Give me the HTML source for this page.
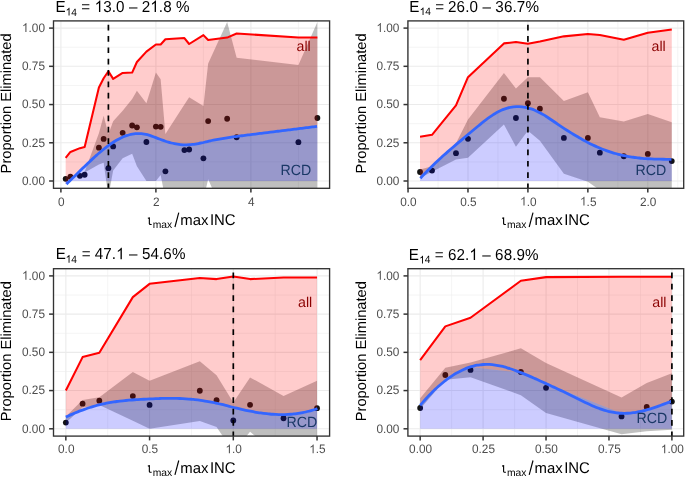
<!DOCTYPE html><html><head><meta charset="utf-8"><title>Proportion Eliminated</title><style>html,body{margin:0;padding:0;background:#fff;overflow:hidden}svg{display:block;will-change:transform}text{font-family:"Liberation Sans",sans-serif;text-rendering:geometricPrecision}</style></head><body>
<svg xmlns="http://www.w3.org/2000/svg" width="685" height="477" viewBox="0 0 685 477">
<rect width="685" height="477" fill="#fff"/>
<clipPath id="c1"><rect x="53.5" y="20.9" width="276.10" height="167.40"/></clipPath>
<g clip-path="url(#c1)">
<line x1="53.5" x2="329.6" y1="161.89" y2="161.89" stroke="#ebebeb" stroke-width="0.55"/>
<line x1="53.5" x2="329.6" y1="123.66" y2="123.66" stroke="#ebebeb" stroke-width="0.55"/>
<line x1="53.5" x2="329.6" y1="85.44" y2="85.44" stroke="#ebebeb" stroke-width="0.55"/>
<line x1="53.5" x2="329.6" y1="47.21" y2="47.21" stroke="#ebebeb" stroke-width="0.55"/>
<line x1="108.40" x2="108.40" y1="20.9" y2="188.3" stroke="#ebebeb" stroke-width="0.55"/>
<line x1="203.40" x2="203.40" y1="20.9" y2="188.3" stroke="#ebebeb" stroke-width="0.55"/>
<line x1="298.40" x2="298.40" y1="20.9" y2="188.3" stroke="#ebebeb" stroke-width="0.55"/>
<line x1="53.5" x2="329.6" y1="181.00" y2="181.00" stroke="#ebebeb" stroke-width="1.1"/>
<line x1="53.5" x2="329.6" y1="142.78" y2="142.78" stroke="#ebebeb" stroke-width="1.1"/>
<line x1="53.5" x2="329.6" y1="104.55" y2="104.55" stroke="#ebebeb" stroke-width="1.1"/>
<line x1="53.5" x2="329.6" y1="66.32" y2="66.32" stroke="#ebebeb" stroke-width="1.1"/>
<line x1="53.5" x2="329.6" y1="28.10" y2="28.10" stroke="#ebebeb" stroke-width="1.1"/>
<line x1="60.90" x2="60.90" y1="20.9" y2="188.3" stroke="#ebebeb" stroke-width="1.1"/>
<line x1="155.90" x2="155.90" y1="20.9" y2="188.3" stroke="#ebebeb" stroke-width="1.1"/>
<line x1="250.90" x2="250.90" y1="20.9" y2="188.3" stroke="#ebebeb" stroke-width="1.1"/>
<polygon points="65.65,177.94 70.40,176.41 79.90,174.12 84.65,171.83 98.90,133.14 103.65,115.86 108.40,134.37 113.15,121.37 122.65,110.67 132.15,98.89 136.90,90.79 146.40,103.33 155.90,72.59 160.65,79.17 165.40,134.06 184.40,104.55 189.15,97.36 203.40,106.08 208.15,63.57 227.15,21.98 236.65,57.76 298.40,64.95 317.40,21.98 317.40,211.58 298.40,211.58 236.65,211.58 227.15,222.28 208.15,179.32 203.40,199.35 189.15,211.58 184.40,211.58 165.40,199.35 160.65,174.88 155.90,181.00 146.40,181.00 136.90,166.32 132.15,153.78 122.65,158.37 113.15,170.60 108.40,196.29 103.65,162.65 98.90,164.49 84.65,172.59 79.90,175.65 70.40,177.94 65.65,181.00" fill="#000" fill-opacity="0.25"/>
<circle cx="65.65" cy="178.86" r="2.9" fill="#141414"/>
<circle cx="70.40" cy="176.72" r="2.9" fill="#141414"/>
<circle cx="79.90" cy="175.80" r="2.9" fill="#141414"/>
<circle cx="84.65" cy="174.73" r="2.9" fill="#141414"/>
<circle cx="98.90" cy="147.67" r="2.9" fill="#141414"/>
<circle cx="103.65" cy="138.95" r="2.9" fill="#141414"/>
<circle cx="108.40" cy="168.16" r="2.9" fill="#141414"/>
<circle cx="113.15" cy="146.44" r="2.9" fill="#141414"/>
<circle cx="122.65" cy="132.84" r="2.9" fill="#141414"/>
<circle cx="132.15" cy="125.50" r="2.9" fill="#141414"/>
<circle cx="136.90" cy="127.33" r="2.9" fill="#141414"/>
<circle cx="146.40" cy="142.01" r="2.9" fill="#141414"/>
<circle cx="155.90" cy="126.57" r="2.9" fill="#141414"/>
<circle cx="160.65" cy="126.87" r="2.9" fill="#141414"/>
<circle cx="165.40" cy="171.37" r="2.9" fill="#141414"/>
<circle cx="184.40" cy="150.11" r="2.9" fill="#141414"/>
<circle cx="189.15" cy="149.50" r="2.9" fill="#141414"/>
<circle cx="203.40" cy="158.37" r="2.9" fill="#141414"/>
<circle cx="208.15" cy="121.06" r="2.9" fill="#141414"/>
<circle cx="227.15" cy="118.77" r="2.9" fill="#141414"/>
<circle cx="236.65" cy="137.27" r="2.9" fill="#141414"/>
<circle cx="298.40" cy="142.16" r="2.9" fill="#141414"/>
<circle cx="317.40" cy="118.01" r="2.9" fill="#141414"/>
<polygon points="65.65,157.91 70.40,151.95 79.90,148.13 84.65,147.06 98.90,87.43 103.65,78.25 108.40,71.22 113.15,78.86 122.65,72.90 132.15,72.59 136.90,62.04 146.40,51.65 155.90,44.46 160.65,44.46 165.40,39.26 184.40,38.04 189.15,44.00 203.40,35.13 208.15,40.03 227.15,37.58 236.65,33.45 298.40,37.58 317.40,37.58 317.40,126.37 298.40,128.72 236.65,136.42 227.15,137.76 208.15,141.35 203.40,142.48 189.15,144.73 184.40,144.81 165.40,141.22 160.65,139.53 155.90,137.68 146.40,134.47 136.90,133.60 132.15,134.15 122.65,137.16 113.15,142.35 108.40,145.62 103.65,149.26 98.90,153.21 84.65,166.39 79.90,171.02 70.40,180.30 65.65,184.13" fill="#ff0000" fill-opacity="0.2"/>
<polygon points="65.65,181.00 65.65,184.13 70.40,180.30 79.90,171.02 84.65,166.39 98.90,153.21 103.65,149.26 108.40,145.62 113.15,142.35 122.65,137.16 132.15,134.15 136.90,133.60 146.40,134.47 155.90,137.68 160.65,139.53 165.40,141.22 184.40,144.81 189.15,144.73 203.40,142.48 208.15,141.35 227.15,137.76 236.65,136.42 298.40,128.72 317.40,126.37 317.40,181.00" fill="#0000ff" fill-opacity="0.2"/>
<polyline points="65.65,157.91 70.40,151.95 79.90,148.13 84.65,147.06 98.90,87.43 103.65,78.25 108.40,71.22 113.15,78.86 122.65,72.90 132.15,72.59 136.90,62.04 146.40,51.65 155.90,44.46 160.65,44.46 165.40,39.26 184.40,38.04 189.15,44.00 203.40,35.13 208.15,40.03 227.15,37.58 236.65,33.45 298.40,37.58 317.40,37.58" fill="none" stroke="#ff0000" stroke-width="2.05" stroke-linejoin="round"/>
<path d="M66.40,184.13 C66.90,183.65 68.40,182.23 69.40,181.27 C70.40,180.31 71.40,179.34 72.40,178.36 C73.40,177.39 74.40,176.41 75.40,175.43 C76.40,174.46 77.40,173.47 78.40,172.49 C79.40,171.51 80.40,170.53 81.40,169.55 C82.40,168.58 83.40,167.60 84.40,166.63 C85.40,165.66 86.40,164.69 87.40,163.74 C88.40,162.78 89.40,161.83 90.40,160.89 C91.40,159.96 92.40,159.03 93.40,158.11 C94.40,157.20 95.40,156.29 96.40,155.40 C97.40,154.51 98.40,153.64 99.40,152.78 C100.40,151.93 101.40,151.09 102.40,150.27 C103.40,149.45 104.40,148.65 105.40,147.88 C106.40,147.10 107.40,146.34 108.40,145.62 C109.40,144.89 110.40,144.18 111.40,143.50 C112.40,142.83 113.40,142.18 114.40,141.56 C115.40,140.94 116.40,140.34 117.40,139.78 C118.40,139.23 119.40,138.70 120.40,138.21 C121.40,137.71 122.40,137.25 123.40,136.83 C124.40,136.41 125.40,136.03 126.40,135.68 C127.40,135.34 128.40,135.03 129.40,134.77 C130.40,134.51 131.40,134.28 132.40,134.11 C133.40,133.93 134.40,133.79 135.40,133.70 C136.40,133.61 137.40,133.57 138.40,133.57 C139.40,133.56 140.40,133.60 141.40,133.69 C142.40,133.77 143.40,133.90 144.40,134.07 C145.40,134.24 146.40,134.46 147.40,134.71 C148.40,134.97 149.40,135.27 150.40,135.60 C151.40,135.93 152.40,136.31 153.40,136.69 C154.40,137.07 155.40,137.48 156.40,137.87 C157.40,138.27 158.40,138.67 159.40,139.05 C160.40,139.44 161.40,139.81 162.40,140.18 C163.40,140.54 164.40,140.89 165.40,141.22 C166.40,141.55 167.40,141.87 168.40,142.17 C169.40,142.46 170.40,142.74 171.40,143.00 C172.40,143.25 173.40,143.48 174.40,143.69 C175.40,143.89 176.40,144.07 177.40,144.22 C178.40,144.37 179.40,144.49 180.40,144.58 C181.40,144.68 182.40,144.74 183.40,144.78 C184.40,144.82 185.40,144.83 186.40,144.82 C187.40,144.81 188.40,144.78 189.40,144.72 C190.40,144.66 191.40,144.57 192.40,144.47 C193.40,144.36 194.40,144.23 195.40,144.08 C196.40,143.93 197.40,143.76 198.40,143.57 C199.40,143.38 200.40,143.16 201.40,142.94 C202.40,142.72 203.40,142.48 204.40,142.24 C205.40,142.01 206.40,141.76 207.40,141.53 C208.40,141.29 209.40,141.06 210.40,140.84 C211.40,140.61 212.40,140.40 213.40,140.19 C214.40,139.99 215.40,139.79 216.40,139.60 C217.40,139.41 218.40,139.22 219.40,139.04 C220.40,138.86 221.40,138.69 222.40,138.52 C223.40,138.35 224.40,138.19 225.40,138.03 C226.40,137.88 227.40,137.72 228.40,137.57 C229.40,137.42 230.40,137.28 231.40,137.14 C232.40,137.00 233.40,136.86 234.40,136.72 C235.40,136.59 236.40,136.45 237.40,136.32 C238.40,136.19 239.40,136.06 240.40,135.93 C241.40,135.80 242.40,135.68 243.40,135.55 C244.40,135.42 245.40,135.30 246.40,135.17 C247.40,135.05 248.40,134.92 249.40,134.80 C250.40,134.67 251.40,134.54 252.40,134.42 C253.40,134.29 254.40,134.17 255.40,134.05 C256.40,133.92 257.40,133.80 258.40,133.67 C259.40,133.55 260.40,133.42 261.40,133.30 C262.40,133.18 263.40,133.05 264.40,132.93 C265.40,132.80 266.40,132.68 267.40,132.56 C268.40,132.43 269.40,132.31 270.40,132.19 C271.40,132.06 272.40,131.94 273.40,131.82 C274.40,131.69 275.40,131.57 276.40,131.45 C277.40,131.32 278.40,131.20 279.40,131.07 C280.40,130.95 281.40,130.83 282.40,130.70 C283.40,130.58 284.40,130.46 285.40,130.33 C286.40,130.21 287.40,130.09 288.40,129.96 C289.40,129.84 290.40,129.71 291.40,129.59 C292.40,129.47 293.40,129.34 294.40,129.22 C295.40,129.09 296.40,128.97 297.40,128.84 C298.40,128.72 299.40,128.59 300.40,128.47 C301.40,128.34 302.40,128.22 303.40,128.09 C304.40,127.97 305.40,127.84 306.40,127.71 C307.40,127.59 308.40,127.46 309.40,127.34 C310.40,127.21 311.40,127.08 312.40,126.95 C313.40,126.83 314.63,126.67 315.40,126.57 C316.17,126.47 316.73,126.40 317.00,126.37" fill="none" stroke="#3366ff" stroke-width="2.8"/>
<line x1="108.40" x2="108.40" y1="20.9" y2="188.3" stroke="#000" stroke-width="1.7" stroke-dasharray="5.7 5.65" stroke-dashoffset="7.55"/>
<text x="296.5" y="50.7" font-size="14.2" fill="#8b0000">all</text>
<g transform="translate(0,174.5) scale(1,1.045) translate(0,-174.5)"><text x="280.5" y="174.5" font-size="14.2" fill="#1a3866">RCD</text></g>
</g>
<rect x="53.5" y="20.9" width="276.10" height="167.40" fill="none" stroke="#333333" stroke-width="1.35"/>
<line x1="49.10" x2="53.5" y1="181.00" y2="181.00" stroke="#333333" stroke-width="1.5"/>
<g transform="translate(0,184.80) scale(1,1.045) translate(0,-184.80)"><text x="22.03 28.60 31.87 38.44" y="184.80" font-size="11.8" fill="#4d4d4d">0.00</text></g>
<line x1="49.10" x2="53.5" y1="142.78" y2="142.78" stroke="#333333" stroke-width="1.5"/>
<g transform="translate(0,146.58) scale(1,1.045) translate(0,-146.58)"><text x="22.03 28.60 31.87 38.44" y="146.58" font-size="11.8" fill="#4d4d4d">0.25</text></g>
<line x1="49.10" x2="53.5" y1="104.55" y2="104.55" stroke="#333333" stroke-width="1.5"/>
<g transform="translate(0,108.35) scale(1,1.045) translate(0,-108.35)"><text x="22.03 28.60 31.87 38.44" y="108.35" font-size="11.8" fill="#4d4d4d">0.50</text></g>
<line x1="49.10" x2="53.5" y1="66.32" y2="66.32" stroke="#333333" stroke-width="1.5"/>
<g transform="translate(0,70.12) scale(1,1.045) translate(0,-70.12)"><text x="22.03 28.60 31.87 38.44" y="70.12" font-size="11.8" fill="#4d4d4d">0.75</text></g>
<line x1="49.10" x2="53.5" y1="28.10" y2="28.10" stroke="#333333" stroke-width="1.5"/>
<g transform="translate(0,31.90) scale(1,1.045) translate(0,-31.90)"><text x="22.03 28.60 31.87 38.44" y="31.90" font-size="11.8" fill="#4d4d4d"> .00</text><path d="M763,0 L583,0 L583,1147 C530,1097 400,1010 222,930 L222,1104 C400,1180 600,1330 646,1472 L763,1472 Z" fill="#4d4d4d" transform="translate(22.03,31.90) scale(0.005762,-0.005762)"/></g>
<line x1="60.90" x2="60.90" y1="188.3" y2="192.60" stroke="#333333" stroke-width="1.5"/>
<g transform="translate(0,205.50) scale(1,1.045) translate(0,-205.50)"><text x="58.02" y="205.50" font-size="11.8" fill="#4d4d4d">0</text></g>
<line x1="155.90" x2="155.90" y1="188.3" y2="192.60" stroke="#333333" stroke-width="1.5"/>
<g transform="translate(0,205.50) scale(1,1.045) translate(0,-205.50)"><text x="153.02" y="205.50" font-size="11.8" fill="#4d4d4d">2</text></g>
<line x1="250.90" x2="250.90" y1="188.3" y2="192.60" stroke="#333333" stroke-width="1.5"/>
<g transform="translate(0,205.50) scale(1,1.045) translate(0,-205.50)"><text x="248.02" y="205.50" font-size="11.8" fill="#4d4d4d">4</text></g>
<g transform="translate(0,12.00) scale(1,1.045) translate(0,-12.00)"><text x="55.45" y="12.00" font-size="15.2">E</text></g>
<g transform="translate(0,15.50) scale(1,1.045) translate(0,-15.50)"><text x="65.69 71.36" y="15.50" font-size="10.2" fill="#000"> 4</text><path d="M763,0 L583,0 L583,1147 C530,1097 400,1010 222,930 L222,1104 C400,1180 600,1330 646,1472 L763,1472 Z" fill="#000" transform="translate(65.69,15.50) scale(0.004980,-0.004980)"/></g>
<g transform="translate(0,12.00) scale(1,1.045) translate(0,-12.00)"><text x="81.36" y="12.00" font-size="15.2">=</text></g>
<g transform="translate(0,12.00) scale(1,1.045) translate(0,-12.00)"><text x="94.64 103.19 111.73 116.05 124.59 128.91 137.45 141.76 150.31 158.85 163.17 171.71 176.03" y="12.00" font-size="15.2" fill="#000"> 3.0 – 2 .8 %</text><path d="M763,0 L583,0 L583,1147 C530,1097 400,1010 222,930 L222,1104 C400,1180 600,1330 646,1472 L763,1472 Z" fill="#000" transform="translate(94.64,12.00) scale(0.007422,-0.007422)"/><path d="M763,0 L583,0 L583,1147 C530,1097 400,1010 222,930 L222,1104 C400,1180 600,1330 646,1472 L763,1472 Z" fill="#000" transform="translate(150.31,12.00) scale(0.007422,-0.007422)"/></g>
<text transform="translate(11.30,103.40) rotate(-90)" font-size="14.65" text-anchor="middle">Proportion Eliminated</text>
<path d="M147.85,218.30 L149.35,217.90 L149.35,223.70 Q149.45,224.70 151.65,224.45" fill="none" stroke="#000" stroke-width="1.12"/>
<text x="152.65" y="227.80" font-size="10.3">max</text>
<line x1="174.95" y1="227.00" x2="178.75" y2="212.70" stroke="#000" stroke-width="1.15"/>
<text x="180.25" y="224.80" font-size="14.9">max</text>
<g transform="translate(0,224.80) scale(1,1.045) translate(0,-224.80)"><text x="209.95" y="224.80" font-size="14.9">INC</text></g>
<clipPath id="c2"><rect x="407.9" y="20.9" width="275.80" height="167.40"/></clipPath>
<g clip-path="url(#c2)">
<line x1="407.9" x2="683.7" y1="161.89" y2="161.89" stroke="#ebebeb" stroke-width="0.55"/>
<line x1="407.9" x2="683.7" y1="123.66" y2="123.66" stroke="#ebebeb" stroke-width="0.55"/>
<line x1="407.9" x2="683.7" y1="85.44" y2="85.44" stroke="#ebebeb" stroke-width="0.55"/>
<line x1="407.9" x2="683.7" y1="47.21" y2="47.21" stroke="#ebebeb" stroke-width="0.55"/>
<line x1="438.01" x2="438.01" y1="20.9" y2="188.3" stroke="#ebebeb" stroke-width="0.55"/>
<line x1="497.95" x2="497.95" y1="20.9" y2="188.3" stroke="#ebebeb" stroke-width="0.55"/>
<line x1="557.89" x2="557.89" y1="20.9" y2="188.3" stroke="#ebebeb" stroke-width="0.55"/>
<line x1="617.83" x2="617.83" y1="20.9" y2="188.3" stroke="#ebebeb" stroke-width="0.55"/>
<line x1="677.77" x2="677.77" y1="20.9" y2="188.3" stroke="#ebebeb" stroke-width="0.55"/>
<line x1="407.9" x2="683.7" y1="181.00" y2="181.00" stroke="#ebebeb" stroke-width="1.1"/>
<line x1="407.9" x2="683.7" y1="142.78" y2="142.78" stroke="#ebebeb" stroke-width="1.1"/>
<line x1="407.9" x2="683.7" y1="104.55" y2="104.55" stroke="#ebebeb" stroke-width="1.1"/>
<line x1="407.9" x2="683.7" y1="66.32" y2="66.32" stroke="#ebebeb" stroke-width="1.1"/>
<line x1="407.9" x2="683.7" y1="28.10" y2="28.10" stroke="#ebebeb" stroke-width="1.1"/>
<line x1="408.04" x2="408.04" y1="20.9" y2="188.3" stroke="#ebebeb" stroke-width="1.1"/>
<line x1="467.98" x2="467.98" y1="20.9" y2="188.3" stroke="#ebebeb" stroke-width="1.1"/>
<line x1="527.92" x2="527.92" y1="20.9" y2="188.3" stroke="#ebebeb" stroke-width="1.1"/>
<line x1="587.86" x2="587.86" y1="20.9" y2="188.3" stroke="#ebebeb" stroke-width="1.1"/>
<line x1="647.80" x2="647.80" y1="20.9" y2="188.3" stroke="#ebebeb" stroke-width="1.1"/>
<polygon points="420.03,169.53 432.02,166.17 455.99,143.23 467.98,119.53 503.94,73.05 515.93,88.50 527.92,77.18 539.91,77.18 563.88,101.03 587.86,92.32 599.85,117.24 623.82,121.52 647.80,114.03 671.78,122.29 671.78,211.58 647.80,211.58 623.82,211.58 599.85,190.17 587.86,181.76 563.88,173.66 539.91,140.79 527.92,130.85 515.93,146.75 503.94,124.58 467.98,157.76 455.99,159.44 432.02,171.83 420.03,177.94" fill="#000" fill-opacity="0.25"/>
<circle cx="420.03" cy="171.98" r="2.9" fill="#141414"/>
<circle cx="432.02" cy="170.60" r="2.9" fill="#141414"/>
<circle cx="455.99" cy="153.17" r="2.9" fill="#141414"/>
<circle cx="467.98" cy="138.80" r="2.9" fill="#141414"/>
<circle cx="503.94" cy="98.74" r="2.9" fill="#141414"/>
<circle cx="515.93" cy="118.01" r="2.9" fill="#141414"/>
<circle cx="527.92" cy="103.17" r="2.9" fill="#141414"/>
<circle cx="539.91" cy="108.68" r="2.9" fill="#141414"/>
<circle cx="563.88" cy="137.88" r="2.9" fill="#141414"/>
<circle cx="587.86" cy="137.88" r="2.9" fill="#141414"/>
<circle cx="599.85" cy="152.71" r="2.9" fill="#141414"/>
<circle cx="623.82" cy="156.23" r="2.9" fill="#141414"/>
<circle cx="647.80" cy="153.94" r="2.9" fill="#141414"/>
<circle cx="671.78" cy="161.12" r="2.9" fill="#141414"/>
<polygon points="420.03,136.81 432.02,134.82 455.99,105.31 467.98,77.18 503.94,43.39 515.93,42.01 527.92,43.85 539.91,41.56 563.88,36.36 587.86,33.91 599.85,34.98 623.82,39.72 647.80,32.84 671.78,29.48 671.78,159.32 647.80,158.71 623.82,155.59 599.85,148.09 587.86,142.45 563.88,128.28 539.91,112.74 527.92,107.94 515.93,106.71 503.94,109.23 467.98,134.56 455.99,144.64 432.02,166.20 420.03,178.32" fill="#ff0000" fill-opacity="0.2"/>
<polygon points="420.03,181.00 420.03,178.32 432.02,166.20 455.99,144.64 467.98,134.56 503.94,109.23 515.93,106.71 527.92,107.94 539.91,112.74 563.88,128.28 587.86,142.45 599.85,148.09 623.82,155.59 647.80,158.71 671.78,159.32 671.78,181.00" fill="#0000ff" fill-opacity="0.2"/>
<polyline points="420.03,136.81 432.02,134.82 455.99,105.31 467.98,77.18 503.94,43.39 515.93,42.01 527.92,43.85 539.91,41.56 563.88,36.36 587.86,33.91 599.85,34.98 623.82,39.72 647.80,32.84 671.78,29.48" fill="none" stroke="#ff0000" stroke-width="2.05" stroke-linejoin="round"/>
<path d="M420.30,178.32 C420.80,177.78 422.30,176.14 423.30,175.08 C424.30,174.01 425.30,172.97 426.30,171.93 C427.30,170.90 428.30,169.89 429.30,168.89 C430.30,167.88 431.30,166.90 432.30,165.92 C433.30,164.95 434.30,163.99 435.30,163.04 C436.30,162.09 437.30,161.15 438.30,160.22 C439.30,159.30 440.30,158.38 441.30,157.47 C442.30,156.56 443.30,155.67 444.30,154.78 C445.30,153.88 446.30,153.00 447.30,152.13 C448.30,151.25 449.30,150.38 450.30,149.51 C451.30,148.65 452.30,147.79 453.30,146.94 C454.30,146.08 455.30,145.23 456.30,144.38 C457.30,143.53 458.30,142.68 459.30,141.84 C460.30,141.00 461.30,140.15 462.30,139.31 C463.30,138.47 464.30,137.63 465.30,136.80 C466.30,135.96 467.30,135.12 468.30,134.29 C469.30,133.45 470.30,132.62 471.30,131.78 C472.30,130.95 473.30,130.11 474.30,129.28 C475.30,128.45 476.30,127.61 477.30,126.78 C478.30,125.96 479.30,125.13 480.30,124.32 C481.30,123.50 482.30,122.70 483.30,121.91 C484.30,121.12 485.30,120.34 486.30,119.59 C487.30,118.83 488.30,118.09 489.30,117.38 C490.30,116.67 491.30,115.98 492.30,115.32 C493.30,114.67 494.30,114.03 495.30,113.44 C496.30,112.84 497.30,112.28 498.30,111.76 C499.30,111.23 500.30,110.75 501.30,110.31 C502.30,109.86 503.30,109.46 504.30,109.10 C505.30,108.74 506.30,108.42 507.30,108.14 C508.30,107.86 509.30,107.62 510.30,107.42 C511.30,107.22 512.30,107.06 513.30,106.94 C514.30,106.82 515.30,106.74 516.30,106.70 C517.30,106.65 518.30,106.65 519.30,106.69 C520.30,106.72 521.30,106.80 522.30,106.91 C523.30,107.02 524.30,107.17 525.30,107.36 C526.30,107.55 527.30,107.78 528.30,108.04 C529.30,108.30 530.30,108.60 531.30,108.94 C532.30,109.28 533.30,109.65 534.30,110.06 C535.30,110.48 536.30,110.93 537.30,111.41 C538.30,111.89 539.30,112.41 540.30,112.95 C541.30,113.49 542.30,114.07 543.30,114.66 C544.30,115.26 545.30,115.88 546.30,116.51 C547.30,117.14 548.30,117.80 549.30,118.46 C550.30,119.12 551.30,119.79 552.30,120.47 C553.30,121.15 554.30,121.83 555.30,122.52 C556.30,123.20 557.30,123.88 558.30,124.56 C559.30,125.24 560.30,125.91 561.30,126.57 C562.30,127.24 563.30,127.90 564.30,128.55 C565.30,129.20 566.30,129.85 567.30,130.49 C568.30,131.13 569.30,131.76 570.30,132.38 C571.30,133.01 572.30,133.63 573.30,134.23 C574.30,134.84 575.30,135.44 576.30,136.03 C577.30,136.63 578.30,137.21 579.30,137.78 C580.30,138.36 581.30,138.92 582.30,139.47 C583.30,140.03 584.30,140.57 585.30,141.11 C586.30,141.64 587.30,142.17 588.30,142.68 C589.30,143.19 590.30,143.70 591.30,144.19 C592.30,144.68 593.30,145.16 594.30,145.62 C595.30,146.09 596.30,146.55 597.30,146.99 C598.30,147.43 599.30,147.87 600.30,148.28 C601.30,148.70 602.30,149.11 603.30,149.50 C604.30,149.89 605.30,150.27 606.30,150.63 C607.30,150.99 608.30,151.34 609.30,151.68 C610.30,152.01 611.30,152.33 612.30,152.64 C613.30,152.95 614.30,153.24 615.30,153.52 C616.30,153.80 617.30,154.06 618.30,154.32 C619.30,154.57 620.30,154.81 621.30,155.04 C622.30,155.27 623.30,155.48 624.30,155.69 C625.30,155.90 626.30,156.09 627.30,156.27 C628.30,156.46 629.30,156.63 630.30,156.79 C631.30,156.95 632.30,157.10 633.30,157.24 C634.30,157.39 635.30,157.52 636.30,157.64 C637.30,157.77 638.30,157.88 639.30,157.99 C640.30,158.10 641.30,158.19 642.30,158.28 C643.30,158.37 644.30,158.46 645.30,158.53 C646.30,158.61 647.30,158.68 648.30,158.74 C649.30,158.80 650.30,158.86 651.30,158.91 C652.30,158.96 653.30,159.00 654.30,159.04 C655.30,159.08 656.30,159.11 657.30,159.14 C658.30,159.17 659.30,159.20 660.30,159.22 C661.30,159.24 662.30,159.26 663.30,159.27 C664.30,159.28 665.30,159.29 666.30,159.30 C667.30,159.31 668.45,159.31 669.30,159.32 C670.15,159.32 671.05,159.32 671.40,159.32" fill="none" stroke="#3366ff" stroke-width="2.8"/>
<line x1="527.92" x2="527.92" y1="20.9" y2="188.3" stroke="#000" stroke-width="1.7" stroke-dasharray="5.7 5.65" stroke-dashoffset="7.55"/>
<text x="651.5" y="50.7" font-size="14.2" fill="#8b0000">all</text>
<g transform="translate(0,174.5) scale(1,1.045) translate(0,-174.5)"><text x="635.6" y="174.5" font-size="14.2" fill="#1a3866">RCD</text></g>
</g>
<rect x="407.9" y="20.9" width="275.80" height="167.40" fill="none" stroke="#333333" stroke-width="1.35"/>
<line x1="403.50" x2="407.9" y1="181.00" y2="181.00" stroke="#333333" stroke-width="1.5"/>
<g transform="translate(0,184.80) scale(1,1.045) translate(0,-184.80)"><text x="376.43 383.00 386.27 392.84" y="184.80" font-size="11.8" fill="#4d4d4d">0.00</text></g>
<line x1="403.50" x2="407.9" y1="142.78" y2="142.78" stroke="#333333" stroke-width="1.5"/>
<g transform="translate(0,146.58) scale(1,1.045) translate(0,-146.58)"><text x="376.43 383.00 386.27 392.84" y="146.58" font-size="11.8" fill="#4d4d4d">0.25</text></g>
<line x1="403.50" x2="407.9" y1="104.55" y2="104.55" stroke="#333333" stroke-width="1.5"/>
<g transform="translate(0,108.35) scale(1,1.045) translate(0,-108.35)"><text x="376.43 383.00 386.27 392.84" y="108.35" font-size="11.8" fill="#4d4d4d">0.50</text></g>
<line x1="403.50" x2="407.9" y1="66.32" y2="66.32" stroke="#333333" stroke-width="1.5"/>
<g transform="translate(0,70.12) scale(1,1.045) translate(0,-70.12)"><text x="376.43 383.00 386.27 392.84" y="70.12" font-size="11.8" fill="#4d4d4d">0.75</text></g>
<line x1="403.50" x2="407.9" y1="28.10" y2="28.10" stroke="#333333" stroke-width="1.5"/>
<g transform="translate(0,31.90) scale(1,1.045) translate(0,-31.90)"><text x="376.43 383.00 386.27 392.84" y="31.90" font-size="11.8" fill="#4d4d4d"> .00</text><path d="M763,0 L583,0 L583,1147 C530,1097 400,1010 222,930 L222,1104 C400,1180 600,1330 646,1472 L763,1472 Z" fill="#4d4d4d" transform="translate(376.43,31.90) scale(0.005762,-0.005762)"/></g>
<line x1="408.04" x2="408.04" y1="188.3" y2="192.60" stroke="#333333" stroke-width="1.5"/>
<g transform="translate(0,205.50) scale(1,1.045) translate(0,-205.50)"><text x="400.24 406.80 410.08" y="205.50" font-size="11.8" fill="#4d4d4d">0.0</text></g>
<line x1="467.98" x2="467.98" y1="188.3" y2="192.60" stroke="#333333" stroke-width="1.5"/>
<g transform="translate(0,205.50) scale(1,1.045) translate(0,-205.50)"><text x="460.18 466.74 470.02" y="205.50" font-size="11.8" fill="#4d4d4d">0.5</text></g>
<line x1="527.92" x2="527.92" y1="188.3" y2="192.60" stroke="#333333" stroke-width="1.5"/>
<g transform="translate(0,205.50) scale(1,1.045) translate(0,-205.50)"><text x="520.12 526.68 529.96" y="205.50" font-size="11.8" fill="#4d4d4d"> .0</text><path d="M763,0 L583,0 L583,1147 C530,1097 400,1010 222,930 L222,1104 C400,1180 600,1330 646,1472 L763,1472 Z" fill="#4d4d4d" transform="translate(520.12,205.50) scale(0.005762,-0.005762)"/></g>
<line x1="587.86" x2="587.86" y1="188.3" y2="192.60" stroke="#333333" stroke-width="1.5"/>
<g transform="translate(0,205.50) scale(1,1.045) translate(0,-205.50)"><text x="580.06 586.62 589.90" y="205.50" font-size="11.8" fill="#4d4d4d"> .5</text><path d="M763,0 L583,0 L583,1147 C530,1097 400,1010 222,930 L222,1104 C400,1180 600,1330 646,1472 L763,1472 Z" fill="#4d4d4d" transform="translate(580.06,205.50) scale(0.005762,-0.005762)"/></g>
<line x1="647.80" x2="647.80" y1="188.3" y2="192.60" stroke="#333333" stroke-width="1.5"/>
<g transform="translate(0,205.50) scale(1,1.045) translate(0,-205.50)"><text x="640.00 646.56 649.84" y="205.50" font-size="11.8" fill="#4d4d4d">2.0</text></g>
<g transform="translate(0,11.60) scale(1,1.045) translate(0,-11.60)"><text x="409.15" y="11.60" font-size="15.2">E</text></g>
<g transform="translate(0,15.10) scale(1,1.045) translate(0,-15.10)"><text x="419.69 425.36" y="15.10" font-size="10.2" fill="#000"> 4</text><path d="M763,0 L583,0 L583,1147 C530,1097 400,1010 222,930 L222,1104 C400,1180 600,1330 646,1472 L763,1472 Z" fill="#000" transform="translate(419.69,15.10) scale(0.004980,-0.004980)"/></g>
<g transform="translate(0,11.60) scale(1,1.045) translate(0,-11.60)"><text x="435.36" y="11.60" font-size="15.2">=</text></g>
<g transform="translate(0,11.60) scale(1,1.045) translate(0,-11.60)"><text x="448.04 456.61 465.18 469.53 478.10 482.44 491.02 495.36 503.94 512.51 516.85 525.43" y="11.60" font-size="15.2" fill="#000">26.0 – 36.7%</text></g>
<text transform="translate(365.70,103.40) rotate(-90)" font-size="14.65" text-anchor="middle">Proportion Eliminated</text>
<path d="M502.10,218.30 L503.60,217.90 L503.60,223.70 Q503.70,224.70 505.90,224.45" fill="none" stroke="#000" stroke-width="1.12"/>
<text x="506.90" y="227.80" font-size="10.3">max</text>
<line x1="529.20" y1="227.00" x2="533.00" y2="212.70" stroke="#000" stroke-width="1.15"/>
<text x="534.50" y="224.80" font-size="14.9">max</text>
<g transform="translate(0,224.80) scale(1,1.045) translate(0,-224.80)"><text x="564.20" y="224.80" font-size="14.9">INC</text></g>
<clipPath id="c3"><rect x="53.5" y="268.7" width="276.10" height="167.40"/></clipPath>
<g clip-path="url(#c3)">
<line x1="53.5" x2="329.6" y1="409.69" y2="409.69" stroke="#ebebeb" stroke-width="0.55"/>
<line x1="53.5" x2="329.6" y1="371.46" y2="371.46" stroke="#ebebeb" stroke-width="0.55"/>
<line x1="53.5" x2="329.6" y1="333.24" y2="333.24" stroke="#ebebeb" stroke-width="0.55"/>
<line x1="53.5" x2="329.6" y1="295.01" y2="295.01" stroke="#ebebeb" stroke-width="0.55"/>
<line x1="107.71" x2="107.71" y1="268.7" y2="436.1" stroke="#ebebeb" stroke-width="0.55"/>
<line x1="191.44" x2="191.44" y1="268.7" y2="436.1" stroke="#ebebeb" stroke-width="0.55"/>
<line x1="275.18" x2="275.18" y1="268.7" y2="436.1" stroke="#ebebeb" stroke-width="0.55"/>
<line x1="53.5" x2="329.6" y1="428.80" y2="428.80" stroke="#ebebeb" stroke-width="1.1"/>
<line x1="53.5" x2="329.6" y1="390.57" y2="390.57" stroke="#ebebeb" stroke-width="1.1"/>
<line x1="53.5" x2="329.6" y1="352.35" y2="352.35" stroke="#ebebeb" stroke-width="1.1"/>
<line x1="53.5" x2="329.6" y1="314.12" y2="314.12" stroke="#ebebeb" stroke-width="1.1"/>
<line x1="53.5" x2="329.6" y1="275.90" y2="275.90" stroke="#ebebeb" stroke-width="1.1"/>
<line x1="65.84" x2="65.84" y1="268.7" y2="436.1" stroke="#ebebeb" stroke-width="1.1"/>
<line x1="149.57" x2="149.57" y1="268.7" y2="436.1" stroke="#ebebeb" stroke-width="1.1"/>
<line x1="233.31" x2="233.31" y1="268.7" y2="436.1" stroke="#ebebeb" stroke-width="1.1"/>
<line x1="317.04" x2="317.04" y1="268.7" y2="436.1" stroke="#ebebeb" stroke-width="1.1"/>
<polygon points="65.84,416.57 82.59,400.05 99.33,397.30 132.83,372.07 149.57,380.64 199.82,361.22 216.56,375.13 233.31,402.50 250.06,377.43 283.55,395.93 317.04,380.79 317.04,459.38 283.55,459.38 250.06,431.86 233.31,451.74 216.56,426.97 199.82,421.00 149.57,428.80 132.83,420.85 99.33,405.10 82.59,407.39 65.84,422.68" fill="#000" fill-opacity="0.25"/>
<circle cx="65.84" cy="422.53" r="2.9" fill="#141414"/>
<circle cx="82.59" cy="403.72" r="2.9" fill="#141414"/>
<circle cx="99.33" cy="400.67" r="2.9" fill="#141414"/>
<circle cx="132.83" cy="396.08" r="2.9" fill="#141414"/>
<circle cx="149.57" cy="404.95" r="2.9" fill="#141414"/>
<circle cx="199.82" cy="390.73" r="2.9" fill="#141414"/>
<circle cx="216.56" cy="400.21" r="2.9" fill="#141414"/>
<circle cx="233.31" cy="420.39" r="2.9" fill="#141414"/>
<circle cx="250.06" cy="404.79" r="2.9" fill="#141414"/>
<circle cx="283.55" cy="418.25" r="2.9" fill="#141414"/>
<circle cx="317.04" cy="408.16" r="2.9" fill="#141414"/>
<polygon points="65.84,390.42 82.59,357.09 99.33,352.81 132.83,297.15 149.57,283.85 199.82,278.04 216.56,279.11 233.31,276.51 250.06,279.11 283.55,277.58 317.04,277.58 317.04,408.73 283.55,414.56 250.06,411.14 233.31,407.37 216.56,403.22 199.82,400.20 149.57,398.93 132.83,399.91 99.33,404.82 82.59,410.01 65.84,417.06" fill="#ff0000" fill-opacity="0.2"/>
<polygon points="65.84,428.80 65.84,417.06 82.59,410.01 99.33,404.82 132.83,399.91 149.57,398.93 199.82,400.20 216.56,403.22 233.31,407.37 250.06,411.14 283.55,414.56 317.04,408.73 317.04,428.80" fill="#0000ff" fill-opacity="0.2"/>
<polyline points="65.84,390.42 82.59,357.09 99.33,352.81 132.83,297.15 149.57,283.85 199.82,278.04 216.56,279.11 233.31,276.51 250.06,279.11 283.55,277.58 317.04,277.58" fill="none" stroke="#ff0000" stroke-width="2.05" stroke-linejoin="round"/>
<path d="M65.80,417.08 C66.30,416.84 67.80,416.14 68.80,415.68 C69.80,415.23 70.80,414.78 71.80,414.35 C72.80,413.91 73.80,413.48 74.80,413.06 C75.80,412.65 76.80,412.24 77.80,411.84 C78.80,411.44 79.80,411.05 80.80,410.68 C81.80,410.30 82.80,409.93 83.80,409.57 C84.80,409.21 85.80,408.86 86.80,408.52 C87.80,408.18 88.80,407.86 89.80,407.54 C90.80,407.22 91.80,406.91 92.80,406.61 C93.80,406.32 94.80,406.03 95.80,405.75 C96.80,405.48 97.80,405.21 98.80,404.96 C99.80,404.70 100.80,404.46 101.80,404.22 C102.80,403.99 103.80,403.77 104.80,403.55 C105.80,403.34 106.80,403.14 107.80,402.95 C108.80,402.76 109.80,402.58 110.80,402.41 C111.80,402.24 112.80,402.08 113.80,401.93 C114.80,401.78 115.80,401.64 116.80,401.51 C117.80,401.37 118.80,401.25 119.80,401.13 C120.80,401.01 121.80,400.90 122.80,400.79 C123.80,400.68 124.80,400.59 125.80,400.49 C126.80,400.40 127.80,400.31 128.80,400.23 C129.80,400.14 130.80,400.06 131.80,399.99 C132.80,399.91 133.80,399.84 134.80,399.77 C135.80,399.71 136.80,399.64 137.80,399.58 C138.80,399.52 139.80,399.46 140.80,399.40 C141.80,399.34 142.80,399.28 143.80,399.23 C144.80,399.17 145.80,399.12 146.80,399.07 C147.80,399.02 148.80,398.97 149.80,398.92 C150.80,398.87 151.80,398.82 152.80,398.78 C153.80,398.73 154.80,398.69 155.80,398.65 C156.80,398.60 157.80,398.57 158.80,398.53 C159.80,398.50 160.80,398.46 161.80,398.44 C162.80,398.41 163.80,398.38 164.80,398.37 C165.80,398.35 166.80,398.33 167.80,398.32 C168.80,398.32 169.80,398.31 170.80,398.32 C171.80,398.32 172.80,398.33 173.80,398.34 C174.80,398.36 175.80,398.38 176.80,398.40 C177.80,398.43 178.80,398.46 179.80,398.50 C180.80,398.54 181.80,398.59 182.80,398.64 C183.80,398.69 184.80,398.75 185.80,398.82 C186.80,398.88 187.80,398.95 188.80,399.03 C189.80,399.11 190.80,399.20 191.80,399.29 C192.80,399.39 193.80,399.49 194.80,399.59 C195.80,399.70 196.80,399.82 197.80,399.94 C198.80,400.07 199.80,400.20 200.80,400.34 C201.80,400.48 202.80,400.62 203.80,400.78 C204.80,400.93 205.80,401.10 206.80,401.27 C207.80,401.44 208.80,401.62 209.80,401.81 C210.80,402.00 211.80,402.20 212.80,402.40 C213.80,402.61 214.80,402.82 215.80,403.05 C216.80,403.27 217.80,403.50 218.80,403.74 C219.80,403.98 220.80,404.22 221.80,404.47 C222.80,404.71 223.80,404.96 224.80,405.22 C225.80,405.47 226.80,405.72 227.80,405.98 C228.80,406.23 229.80,406.49 230.80,406.74 C231.80,406.99 232.80,407.25 233.80,407.49 C234.80,407.74 235.80,407.99 236.80,408.23 C237.80,408.47 238.80,408.70 239.80,408.93 C240.80,409.17 241.80,409.39 242.80,409.62 C243.80,409.84 244.80,410.06 245.80,410.27 C246.80,410.48 247.80,410.69 248.80,410.89 C249.80,411.09 250.80,411.28 251.80,411.47 C252.80,411.66 253.80,411.84 254.80,412.01 C255.80,412.19 256.80,412.35 257.80,412.51 C258.80,412.67 259.80,412.82 260.80,412.96 C261.80,413.11 262.80,413.24 263.80,413.37 C264.80,413.49 265.80,413.61 266.80,413.72 C267.80,413.83 268.80,413.93 269.80,414.01 C270.80,414.10 271.80,414.18 272.80,414.25 C273.80,414.32 274.80,414.38 275.80,414.42 C276.80,414.47 277.80,414.51 278.80,414.53 C279.80,414.55 280.80,414.57 281.80,414.57 C282.80,414.57 283.80,414.56 284.80,414.53 C285.80,414.51 286.80,414.47 287.80,414.43 C288.80,414.38 289.80,414.31 290.80,414.24 C291.80,414.16 292.80,414.07 293.80,413.97 C294.80,413.86 295.80,413.74 296.80,413.61 C297.80,413.48 298.80,413.33 299.80,413.17 C300.80,413.00 301.80,412.83 302.80,412.63 C303.80,412.44 304.80,412.23 305.80,412.00 C306.80,411.77 307.80,411.53 308.80,411.27 C309.80,411.01 310.80,410.74 311.80,410.44 C312.80,410.15 313.87,409.81 314.80,409.51 C315.73,409.20 316.97,408.76 317.40,408.61" fill="none" stroke="#3366ff" stroke-width="2.8"/>
<line x1="233.31" x2="233.31" y1="268.7" y2="436.1" stroke="#000" stroke-width="1.7" stroke-dasharray="5.7 5.65" stroke-dashoffset="7.55"/>
<text x="298.0" y="306.7" font-size="14.2" fill="#8b0000">all</text>
<g transform="translate(0,426.5) scale(1,1.045) translate(0,-426.5)"><text x="286.6" y="426.5" font-size="14.2" fill="#1a3866">RCD</text></g>
</g>
<rect x="53.5" y="268.7" width="276.10" height="167.40" fill="none" stroke="#333333" stroke-width="1.35"/>
<line x1="49.10" x2="53.5" y1="428.80" y2="428.80" stroke="#333333" stroke-width="1.5"/>
<g transform="translate(0,432.60) scale(1,1.045) translate(0,-432.60)"><text x="22.03 28.60 31.87 38.44" y="432.60" font-size="11.8" fill="#4d4d4d">0.00</text></g>
<line x1="49.10" x2="53.5" y1="390.57" y2="390.57" stroke="#333333" stroke-width="1.5"/>
<g transform="translate(0,394.38) scale(1,1.045) translate(0,-394.38)"><text x="22.03 28.60 31.87 38.44" y="394.38" font-size="11.8" fill="#4d4d4d">0.25</text></g>
<line x1="49.10" x2="53.5" y1="352.35" y2="352.35" stroke="#333333" stroke-width="1.5"/>
<g transform="translate(0,356.15) scale(1,1.045) translate(0,-356.15)"><text x="22.03 28.60 31.87 38.44" y="356.15" font-size="11.8" fill="#4d4d4d">0.50</text></g>
<line x1="49.10" x2="53.5" y1="314.12" y2="314.12" stroke="#333333" stroke-width="1.5"/>
<g transform="translate(0,317.93) scale(1,1.045) translate(0,-317.93)"><text x="22.03 28.60 31.87 38.44" y="317.93" font-size="11.8" fill="#4d4d4d">0.75</text></g>
<line x1="49.10" x2="53.5" y1="275.90" y2="275.90" stroke="#333333" stroke-width="1.5"/>
<g transform="translate(0,279.70) scale(1,1.045) translate(0,-279.70)"><text x="22.03 28.60 31.87 38.44" y="279.70" font-size="11.8" fill="#4d4d4d"> .00</text><path d="M763,0 L583,0 L583,1147 C530,1097 400,1010 222,930 L222,1104 C400,1180 600,1330 646,1472 L763,1472 Z" fill="#4d4d4d" transform="translate(22.03,279.70) scale(0.005762,-0.005762)"/></g>
<line x1="65.84" x2="65.84" y1="436.1" y2="440.40" stroke="#333333" stroke-width="1.5"/>
<g transform="translate(0,453.30) scale(1,1.045) translate(0,-453.30)"><text x="58.04 64.60 67.88" y="453.30" font-size="11.8" fill="#4d4d4d">0.0</text></g>
<line x1="149.57" x2="149.57" y1="436.1" y2="440.40" stroke="#333333" stroke-width="1.5"/>
<g transform="translate(0,453.30) scale(1,1.045) translate(0,-453.30)"><text x="141.77 148.34 151.61" y="453.30" font-size="11.8" fill="#4d4d4d">0.5</text></g>
<line x1="233.31" x2="233.31" y1="436.1" y2="440.40" stroke="#333333" stroke-width="1.5"/>
<g transform="translate(0,453.30) scale(1,1.045) translate(0,-453.30)"><text x="225.51 232.07 235.35" y="453.30" font-size="11.8" fill="#4d4d4d"> .0</text><path d="M763,0 L583,0 L583,1147 C530,1097 400,1010 222,930 L222,1104 C400,1180 600,1330 646,1472 L763,1472 Z" fill="#4d4d4d" transform="translate(225.51,453.30) scale(0.005762,-0.005762)"/></g>
<line x1="317.04" x2="317.04" y1="436.1" y2="440.40" stroke="#333333" stroke-width="1.5"/>
<g transform="translate(0,453.30) scale(1,1.045) translate(0,-453.30)"><text x="309.24 315.81 319.08" y="453.30" font-size="11.8" fill="#4d4d4d"> .5</text><path d="M763,0 L583,0 L583,1147 C530,1097 400,1010 222,930 L222,1104 C400,1180 600,1330 646,1472 L763,1472 Z" fill="#4d4d4d" transform="translate(309.24,453.30) scale(0.005762,-0.005762)"/></g>
<g transform="translate(0,259.20) scale(1,1.045) translate(0,-259.20)"><text x="55.65" y="259.20" font-size="15.2">E</text></g>
<g transform="translate(0,262.70) scale(1,1.045) translate(0,-262.70)"><text x="65.69 71.36" y="262.70" font-size="10.2" fill="#000"> 4</text><path d="M763,0 L583,0 L583,1147 C530,1097 400,1010 222,930 L222,1104 C400,1180 600,1330 646,1472 L763,1472 Z" fill="#000" transform="translate(65.69,262.70) scale(0.004980,-0.004980)"/></g>
<g transform="translate(0,259.20) scale(1,1.045) translate(0,-259.20)"><text x="81.76" y="259.20" font-size="15.2">=</text></g>
<g transform="translate(0,259.20) scale(1,1.045) translate(0,-259.20)"><text x="94.75 103.31 111.86 116.18 124.74 129.06 137.62 141.94 150.49 159.05 163.37 171.93" y="259.20" font-size="15.2" fill="#000">47.  – 54.6%</text><path d="M763,0 L583,0 L583,1147 C530,1097 400,1010 222,930 L222,1104 C400,1180 600,1330 646,1472 L763,1472 Z" fill="#000" transform="translate(116.18,259.20) scale(0.007422,-0.007422)"/></g>
<text transform="translate(11.30,351.20) rotate(-90)" font-size="14.65" text-anchor="middle">Proportion Eliminated</text>
<path d="M147.85,466.10 L149.35,465.70 L149.35,471.50 Q149.45,472.50 151.65,472.25" fill="none" stroke="#000" stroke-width="1.12"/>
<text x="152.65" y="475.60" font-size="10.3">max</text>
<line x1="174.95" y1="474.80" x2="178.75" y2="460.50" stroke="#000" stroke-width="1.15"/>
<text x="180.25" y="472.60" font-size="14.9">max</text>
<g transform="translate(0,472.60) scale(1,1.045) translate(0,-472.60)"><text x="209.95" y="472.60" font-size="14.9">INC</text></g>
<clipPath id="c4"><rect x="407.9" y="268.7" width="275.80" height="167.40"/></clipPath>
<g clip-path="url(#c4)">
<line x1="407.9" x2="683.7" y1="409.69" y2="409.69" stroke="#ebebeb" stroke-width="0.55"/>
<line x1="407.9" x2="683.7" y1="371.46" y2="371.46" stroke="#ebebeb" stroke-width="0.55"/>
<line x1="407.9" x2="683.7" y1="333.24" y2="333.24" stroke="#ebebeb" stroke-width="0.55"/>
<line x1="407.9" x2="683.7" y1="295.01" y2="295.01" stroke="#ebebeb" stroke-width="0.55"/>
<line x1="451.63" x2="451.63" y1="268.7" y2="436.1" stroke="#ebebeb" stroke-width="0.55"/>
<line x1="514.56" x2="514.56" y1="268.7" y2="436.1" stroke="#ebebeb" stroke-width="0.55"/>
<line x1="577.50" x2="577.50" y1="268.7" y2="436.1" stroke="#ebebeb" stroke-width="0.55"/>
<line x1="640.43" x2="640.43" y1="268.7" y2="436.1" stroke="#ebebeb" stroke-width="0.55"/>
<line x1="407.9" x2="683.7" y1="428.80" y2="428.80" stroke="#ebebeb" stroke-width="1.1"/>
<line x1="407.9" x2="683.7" y1="390.57" y2="390.57" stroke="#ebebeb" stroke-width="1.1"/>
<line x1="407.9" x2="683.7" y1="352.35" y2="352.35" stroke="#ebebeb" stroke-width="1.1"/>
<line x1="407.9" x2="683.7" y1="314.12" y2="314.12" stroke="#ebebeb" stroke-width="1.1"/>
<line x1="407.9" x2="683.7" y1="275.90" y2="275.90" stroke="#ebebeb" stroke-width="1.1"/>
<line x1="420.16" x2="420.16" y1="268.7" y2="436.1" stroke="#ebebeb" stroke-width="1.1"/>
<line x1="483.10" x2="483.10" y1="268.7" y2="436.1" stroke="#ebebeb" stroke-width="1.1"/>
<line x1="546.03" x2="546.03" y1="268.7" y2="436.1" stroke="#ebebeb" stroke-width="1.1"/>
<line x1="608.97" x2="608.97" y1="268.7" y2="436.1" stroke="#ebebeb" stroke-width="1.1"/>
<line x1="671.90" x2="671.90" y1="268.7" y2="436.1" stroke="#ebebeb" stroke-width="1.1"/>
<polygon points="420.16,398.22 445.33,367.64 470.51,362.59 520.86,348.37 546.03,363.05 621.55,397.61 646.73,383.08 671.90,373.30 671.90,429.72 646.73,431.25 621.55,434.30 546.03,412.90 520.86,395.16 470.51,377.27 445.33,379.87 420.16,408.92" fill="#000" fill-opacity="0.25"/>
<circle cx="420.16" cy="408.01" r="2.9" fill="#141414"/>
<circle cx="445.33" cy="374.98" r="2.9" fill="#141414"/>
<circle cx="470.51" cy="369.93" r="2.9" fill="#141414"/>
<circle cx="520.86" cy="371.92" r="2.9" fill="#141414"/>
<circle cx="546.03" cy="387.82" r="2.9" fill="#141414"/>
<circle cx="621.55" cy="416.42" r="2.9" fill="#141414"/>
<circle cx="646.73" cy="406.94" r="2.9" fill="#141414"/>
<circle cx="671.90" cy="401.58" r="2.9" fill="#141414"/>
<polygon points="420.16,360.15 445.33,326.36 470.51,317.79 520.86,280.79 546.03,277.12 621.55,276.82 646.73,276.66 671.90,276.66 671.90,401.16 646.73,409.87 621.55,413.24 546.03,383.57 520.86,372.61 470.51,366.90 445.33,380.64 420.16,405.29" fill="#ff0000" fill-opacity="0.2"/>
<polygon points="420.16,428.80 420.16,405.29 445.33,380.64 470.51,366.90 520.86,372.61 546.03,383.57 621.55,413.24 646.73,409.87 671.90,401.16 671.90,428.80" fill="#0000ff" fill-opacity="0.2"/>
<polyline points="420.16,360.15 445.33,326.36 470.51,317.79 520.86,280.79 546.03,277.12 621.55,276.82 646.73,276.66 671.90,276.66" fill="none" stroke="#ff0000" stroke-width="2.05" stroke-linejoin="round"/>
<path d="M420.20,405.29 C420.70,404.71 422.20,402.94 423.20,401.81 C424.20,400.67 425.20,399.56 426.20,398.47 C427.20,397.38 428.20,396.32 429.20,395.28 C430.20,394.24 431.20,393.22 432.20,392.23 C433.20,391.24 434.20,390.27 435.20,389.33 C436.20,388.39 437.20,387.47 438.20,386.57 C439.20,385.68 440.20,384.81 441.20,383.97 C442.20,383.13 443.20,382.31 444.20,381.52 C445.20,380.73 446.20,379.97 447.20,379.23 C448.20,378.49 449.20,377.78 450.20,377.09 C451.20,376.41 452.20,375.75 453.20,375.11 C454.20,374.48 455.20,373.87 456.20,373.30 C457.20,372.72 458.20,372.16 459.20,371.64 C460.20,371.12 461.20,370.62 462.20,370.15 C463.20,369.68 464.20,369.24 465.20,368.83 C466.20,368.41 467.20,368.03 468.20,367.67 C469.20,367.31 470.20,366.99 471.20,366.69 C472.20,366.39 473.20,366.12 474.20,365.87 C475.20,365.63 476.20,365.42 477.20,365.24 C478.20,365.05 479.20,364.90 480.20,364.78 C481.20,364.65 482.20,364.56 483.20,364.49 C484.20,364.43 485.20,364.40 486.20,364.39 C487.20,364.38 488.20,364.41 489.20,364.46 C490.20,364.51 491.20,364.59 492.20,364.69 C493.20,364.79 494.20,364.92 495.20,365.07 C496.20,365.21 497.20,365.39 498.20,365.58 C499.20,365.77 500.20,365.99 501.20,366.22 C502.20,366.45 503.20,366.70 504.20,366.97 C505.20,367.23 506.20,367.52 507.20,367.81 C508.20,368.11 509.20,368.43 510.20,368.75 C511.20,369.08 512.20,369.41 513.20,369.76 C514.20,370.11 515.20,370.47 516.20,370.84 C517.20,371.21 518.20,371.58 519.20,371.97 C520.20,372.35 521.20,372.74 522.20,373.14 C523.20,373.54 524.20,373.95 525.20,374.36 C526.20,374.77 527.20,375.19 528.20,375.62 C529.20,376.04 530.20,376.47 531.20,376.90 C532.20,377.34 533.20,377.78 534.20,378.22 C535.20,378.66 536.20,379.11 537.20,379.55 C538.20,380.00 539.20,380.46 540.20,380.91 C541.20,381.36 542.20,381.82 543.20,382.28 C544.20,382.73 545.20,383.19 546.20,383.65 C547.20,384.11 548.20,384.57 549.20,385.03 C550.20,385.49 551.20,385.95 552.20,386.41 C553.20,386.88 554.20,387.34 555.20,387.81 C556.20,388.27 557.20,388.74 558.20,389.21 C559.20,389.68 560.20,390.15 561.20,390.62 C562.20,391.10 563.20,391.57 564.20,392.05 C565.20,392.53 566.20,393.01 567.20,393.50 C568.20,393.98 569.20,394.47 570.20,394.96 C571.20,395.45 572.20,395.95 573.20,396.45 C574.20,396.95 575.20,397.45 576.20,397.95 C577.20,398.45 578.20,398.95 579.20,399.45 C580.20,399.95 581.20,400.45 582.20,400.95 C583.20,401.44 584.20,401.93 585.20,402.41 C586.20,402.90 587.20,403.37 588.20,403.84 C589.20,404.31 590.20,404.77 591.20,405.21 C592.20,405.66 593.20,406.10 594.20,406.52 C595.20,406.94 596.20,407.35 597.20,407.74 C598.20,408.13 599.20,408.51 600.20,408.87 C601.20,409.22 602.20,409.56 603.20,409.88 C604.20,410.20 605.20,410.50 606.20,410.77 C607.20,411.05 608.20,411.30 609.20,411.53 C610.20,411.76 611.20,411.97 612.20,412.16 C613.20,412.34 614.20,412.51 615.20,412.65 C616.20,412.79 617.20,412.91 618.20,413.01 C619.20,413.10 620.20,413.18 621.20,413.23 C622.20,413.28 623.20,413.30 624.20,413.31 C625.20,413.31 626.20,413.29 627.20,413.24 C628.20,413.20 629.20,413.13 630.20,413.04 C631.20,412.95 632.20,412.84 633.20,412.71 C634.20,412.58 635.20,412.43 636.20,412.26 C637.20,412.09 638.20,411.90 639.20,411.70 C640.20,411.49 641.20,411.27 642.20,411.04 C643.20,410.80 644.20,410.55 645.20,410.28 C646.20,410.02 647.20,409.74 648.20,409.45 C649.20,409.16 650.20,408.86 651.20,408.55 C652.20,408.23 653.20,407.91 654.20,407.58 C655.20,407.25 656.20,406.91 657.20,406.56 C658.20,406.22 659.20,405.86 660.20,405.51 C661.20,405.15 662.20,404.78 663.20,404.41 C664.20,404.05 665.20,403.67 666.20,403.30 C667.20,402.93 668.25,402.53 669.20,402.17 C670.15,401.82 671.45,401.33 671.90,401.16" fill="none" stroke="#3366ff" stroke-width="2.8"/>
<line x1="671.90" x2="671.90" y1="268.7" y2="436.1" stroke="#000" stroke-width="1.7" stroke-dasharray="5.7 5.65" stroke-dashoffset="7.55"/>
<text x="652.3" y="306.7" font-size="14.2" fill="#8b0000">all</text>
<g transform="translate(0,423.0) scale(1,1.045) translate(0,-423.0)"><text x="636.5" y="423.0" font-size="14.2" fill="#1a3866">RCD</text></g>
</g>
<rect x="407.9" y="268.7" width="275.80" height="167.40" fill="none" stroke="#333333" stroke-width="1.35"/>
<line x1="403.50" x2="407.9" y1="428.80" y2="428.80" stroke="#333333" stroke-width="1.5"/>
<g transform="translate(0,432.60) scale(1,1.045) translate(0,-432.60)"><text x="376.43 383.00 386.27 392.84" y="432.60" font-size="11.8" fill="#4d4d4d">0.00</text></g>
<line x1="403.50" x2="407.9" y1="390.57" y2="390.57" stroke="#333333" stroke-width="1.5"/>
<g transform="translate(0,394.38) scale(1,1.045) translate(0,-394.38)"><text x="376.43 383.00 386.27 392.84" y="394.38" font-size="11.8" fill="#4d4d4d">0.25</text></g>
<line x1="403.50" x2="407.9" y1="352.35" y2="352.35" stroke="#333333" stroke-width="1.5"/>
<g transform="translate(0,356.15) scale(1,1.045) translate(0,-356.15)"><text x="376.43 383.00 386.27 392.84" y="356.15" font-size="11.8" fill="#4d4d4d">0.50</text></g>
<line x1="403.50" x2="407.9" y1="314.12" y2="314.12" stroke="#333333" stroke-width="1.5"/>
<g transform="translate(0,317.93) scale(1,1.045) translate(0,-317.93)"><text x="376.43 383.00 386.27 392.84" y="317.93" font-size="11.8" fill="#4d4d4d">0.75</text></g>
<line x1="403.50" x2="407.9" y1="275.90" y2="275.90" stroke="#333333" stroke-width="1.5"/>
<g transform="translate(0,279.70) scale(1,1.045) translate(0,-279.70)"><text x="376.43 383.00 386.27 392.84" y="279.70" font-size="11.8" fill="#4d4d4d"> .00</text><path d="M763,0 L583,0 L583,1147 C530,1097 400,1010 222,930 L222,1104 C400,1180 600,1330 646,1472 L763,1472 Z" fill="#4d4d4d" transform="translate(376.43,279.70) scale(0.005762,-0.005762)"/></g>
<line x1="420.16" x2="420.16" y1="436.1" y2="440.40" stroke="#333333" stroke-width="1.5"/>
<g transform="translate(0,453.30) scale(1,1.045) translate(0,-453.30)"><text x="409.08 415.64 418.92 425.48" y="453.30" font-size="11.8" fill="#4d4d4d">0.00</text></g>
<line x1="483.10" x2="483.10" y1="436.1" y2="440.40" stroke="#333333" stroke-width="1.5"/>
<g transform="translate(0,453.30) scale(1,1.045) translate(0,-453.30)"><text x="472.01 478.57 481.85 488.42" y="453.30" font-size="11.8" fill="#4d4d4d">0.25</text></g>
<line x1="546.03" x2="546.03" y1="436.1" y2="440.40" stroke="#333333" stroke-width="1.5"/>
<g transform="translate(0,453.30) scale(1,1.045) translate(0,-453.30)"><text x="534.95 541.51 544.79 551.35" y="453.30" font-size="11.8" fill="#4d4d4d">0.50</text></g>
<line x1="608.97" x2="608.97" y1="436.1" y2="440.40" stroke="#333333" stroke-width="1.5"/>
<g transform="translate(0,453.30) scale(1,1.045) translate(0,-453.30)"><text x="597.88 604.44 607.72 614.29" y="453.30" font-size="11.8" fill="#4d4d4d">0.75</text></g>
<line x1="671.90" x2="671.90" y1="436.1" y2="440.40" stroke="#333333" stroke-width="1.5"/>
<g transform="translate(0,453.30) scale(1,1.045) translate(0,-453.30)"><text x="660.82 667.38 670.66 677.22" y="453.30" font-size="11.8" fill="#4d4d4d"> .00</text><path d="M763,0 L583,0 L583,1147 C530,1097 400,1010 222,930 L222,1104 C400,1180 600,1330 646,1472 L763,1472 Z" fill="#4d4d4d" transform="translate(660.82,453.30) scale(0.005762,-0.005762)"/></g>
<g transform="translate(0,259.90) scale(1,1.045) translate(0,-259.90)"><text x="408.85" y="259.90" font-size="15.2">E</text></g>
<g transform="translate(0,263.40) scale(1,1.045) translate(0,-263.40)"><text x="419.19 424.86" y="263.40" font-size="10.2" fill="#000"> 4</text><path d="M763,0 L583,0 L583,1147 C530,1097 400,1010 222,930 L222,1104 C400,1180 600,1330 646,1472 L763,1472 Z" fill="#000" transform="translate(419.19,263.40) scale(0.004980,-0.004980)"/></g>
<g transform="translate(0,259.90) scale(1,1.045) translate(0,-259.90)"><text x="434.86" y="259.90" font-size="15.2">=</text></g>
<g transform="translate(0,259.90) scale(1,1.045) translate(0,-259.90)"><text x="448.03 456.57 465.10 469.41 477.95 482.26 490.80 495.10 503.64 512.18 516.49 525.03" y="259.90" font-size="15.2" fill="#000">62.  – 68.9%</text><path d="M763,0 L583,0 L583,1147 C530,1097 400,1010 222,930 L222,1104 C400,1180 600,1330 646,1472 L763,1472 Z" fill="#000" transform="translate(469.41,259.90) scale(0.007422,-0.007422)"/></g>
<text transform="translate(365.70,351.20) rotate(-90)" font-size="14.65" text-anchor="middle">Proportion Eliminated</text>
<path d="M502.10,466.10 L503.60,465.70 L503.60,471.50 Q503.70,472.50 505.90,472.25" fill="none" stroke="#000" stroke-width="1.12"/>
<text x="506.90" y="475.60" font-size="10.3">max</text>
<line x1="529.20" y1="474.80" x2="533.00" y2="460.50" stroke="#000" stroke-width="1.15"/>
<text x="534.50" y="472.60" font-size="14.9">max</text>
<g transform="translate(0,472.60) scale(1,1.045) translate(0,-472.60)"><text x="564.20" y="472.60" font-size="14.9">INC</text></g>
</svg></body></html>
